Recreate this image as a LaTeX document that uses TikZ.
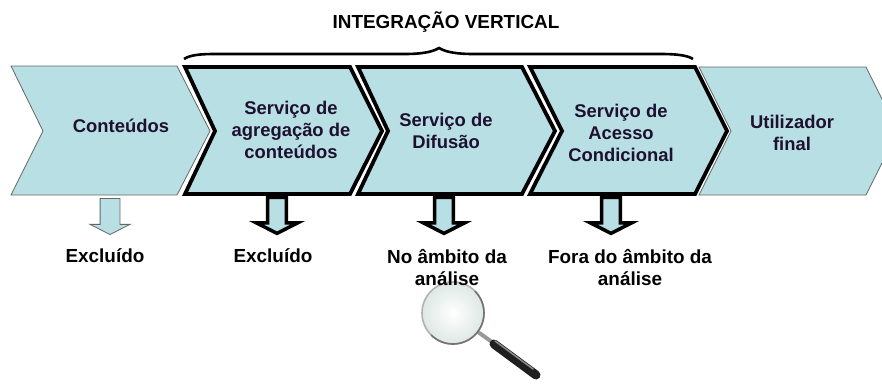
\documentclass[tikz,border=0pt]{standalone}
\usepackage{fontspec}
\setmainfont{Liberation Sans}
\usepackage{tikz}
\usetikzlibrary{shapes.arrows, shadings, positioning}
\definecolor{chevfill}{RGB}{184,223,227}
\definecolor{textdark}{RGB}{30,16,48}
\definecolor{lensfill}{RGB}{222,232,228}

\begin{document}
\begin{tikzpicture}[
    x=1pt, y=-1pt,
    plainchev/.style={draw=black!60, line width=0.8pt, fill=chevfill},
    boldchev/.style={draw=black, line width=3.8pt, miter limit=10, fill=chevfill},
    chevtext/.style={font=\bfseries\fontsize{18.4}{22}\selectfont, align=center, text=textdark},
    outtext/.style={font=\bfseries\fontsize{18.9}{22}\selectfont, align=center, text=black},
    plainarrow/.style={
        single arrow, shape border rotate=270,
        minimum height=36pt,
        single arrow tip angle=126,
        single arrow head extend=10pt, single arrow head indent=0pt,
        inner sep=9.5pt, outer sep=0pt,
        draw=black!60, line width=0.8pt, fill=chevfill
    },
    boldarrow/.style={plainarrow, draw=black, line width=3.5pt, miter limit=10,
        inner sep=7.6pt, single arrow head extend=11.5pt}
]
\clip (0,0) rectangle (882,383);

% chevrons
\draw[plainchev] (11,66) -- (177,66) -- (210,131) -- (177,195) -- (11,195) -- (43,131) -- cycle;
\draw[plainchev] (699,67) -- (866,67) -- (898,131) -- (866,195) -- (699,195) -- (731,131) -- cycle;

% arrows
\node[plainarrow] (arrow1) at (110,214) {};
\node[boldarrow] (arrow2) at (277,213) {};
\node[boldarrow] (arrow3) at (444,213) {};
\node[boldarrow] (arrow4) at (611,213) {};

\draw[boldchev] (185,67) -- (350,67) -- (382,131) -- (350,194) -- (185,194) -- (215,131) -- cycle;
\draw[boldchev] (358,67) -- (522,67) -- (555,131) -- (522,194) -- (358,194) -- (388,131) -- cycle;
\draw[boldchev] (530,67) -- (695,67) -- (727,131) -- (695,194) -- (530,194) -- (562,131) -- cycle;

\node[chevtext] (contents) at (121,126) {Conteúdos};
\node[chevtext] (aggregation) at (291,130) {Serviço de\\agregação de\\conteúdos};
\node[chevtext] (broadcast) at (446,131) {Serviço de\\Difusão};
\node[chevtext] (access) at (621,133) {Serviço de\\Acesso\\Condicional};
\node[chevtext] (enduser) at (792,133) {Utilizador\\final};

% brace
\node[outtext] (vertical) at (446,22) {INTEGRAÇÃO VERTICAL};
\draw[line width=2.6pt] (184,59) .. controls (190,55) and (200,54) .. (215,54)
    -- (405,54) .. controls (425,54) and (434,51) .. (439,48)
    .. controls (444,51) and (453,54) .. (473,54)
    -- (660,54) .. controls (675,54) and (687,55) .. (693,59);

% magnifying glass
\draw[line width=4pt, black!40] (478,332) -- (492,342);
\draw[line cap=round, line width=9pt, black!88] (494,344) -- (536,375);
\draw[line cap=round, line width=1.5pt, black!45] (495,341) -- (533,369);
\shade[inner color=white, outer color=lensfill] (453,313) circle (31);
\draw[line width=1.6pt, black!30] (453,313) circle (31);
\draw[line width=1.6pt, black!55] (474.9,291.1) arc[start angle=-45, end angle=135, radius=31];

\node[outtext] (out1) at (105,256) {Excluído};
\node[outtext] (out2) at (273,256) {Excluído};
\node[outtext] (out3) at (447,268) {No âmbito da\\análise};
\node[outtext] (out4) at (630,268) {Fora do âmbito da\\análise};
\end{tikzpicture}
\end{document}
